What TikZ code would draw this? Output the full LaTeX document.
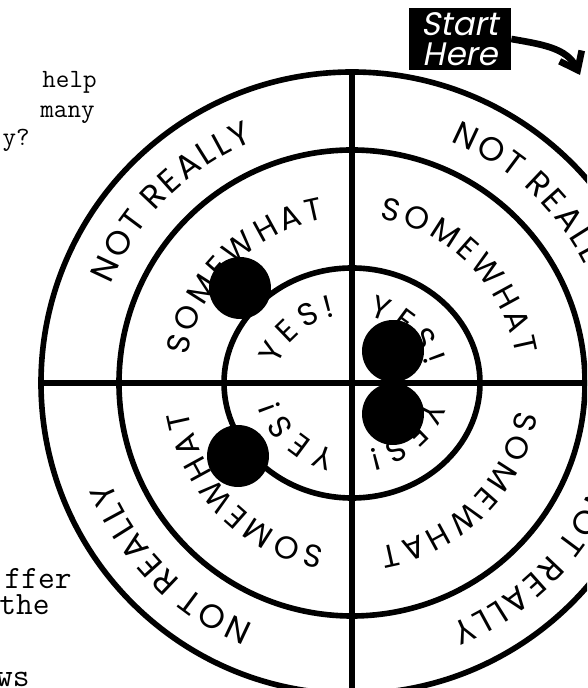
\documentclass[tikz,border=0pt]{standalone}
\usepackage{fontspec}
\newfontfamily\ringfont{Poppins}
\newfontfamily\tagfont[FakeSlant=0.2]{Poppins}
\newcommand\ringA{\ringfont\fontsize{19}{22}\selectfont}
\newcommand\ringB{\ringfont\fontsize{18}{21}\selectfont}
\newcommand\gapA{\kern1.6pt}
\newcommand\gapB{\kern2.2pt}
\newcommand\gapC{\kern3.2pt}
\usetikzlibrary{arrows.meta,decorations.text}
\tikzset{
  ringline/.style={line width=3.2pt},
  dot/.style={circle,fill=black,minimum size=1.24cm,inner sep=0pt},
  note/.style={font=\ttfamily\fontsize{15}{18}\selectfont,inner sep=0pt,anchor=base east},
  notebig/.style={note,font=\ttfamily\fontsize{18.5}{22}\selectfont},
  startbox/.style={fill=black,text=white,align=center,inner sep=0pt,
    minimum width=2.04cm,minimum height=1.24cm,
    font=\tagfont\fontsize{18.5}{17}\selectfont},
  onring/.style={decorate,decoration={text along path,text align=center,text={#1}}}
}

\begin{document}
\begin{tikzpicture}[x=0.02cm,y=0.02cm]
  \useasboundingbox (-352,-305) rectangle (235,383);
  \clip (-352,-305) rectangle (235,383);
  % rings and cross
  \draw[ringline] (0,0) circle (311);
  \draw[ringline] (0,0) circle (233);
  \draw[ringline] (0,0) ellipse [x radius=128,y radius=115];
  \draw[ringline] (-311,0) -- (311,0);
  \draw[ringline] (0,311) -- (0,-311);
  % labels, read clockwise in every quadrant
  \foreach \a in {45,135,225,315} {
    \path[onring={|\ringA|{N\gapA}{O\gapA}{T\gapA} {R\gapA}{E\gapA}{A\gapA}{L\gapA}{L\gapA}{Y}}]
      ({\a+45}:261) arc [start angle=\a+45,end angle=\a-45,radius=261];
    \path[onring={|\ringB|{S\gapB}{O\gapB}{M\gapB}{E\gapB}{W\gapB}{H\gapB}{A\gapB}{T}}]
      ({\a+45}:166) arc [start angle=\a+45,end angle=\a-45,radius=166];
    \path[onring={|\ringB|{Y\gapC}{E\gapC}{S\gapC}{!}}]
      ({\a+45}:76 and 68) arc [start angle=\a+45,end angle=\a-45,x radius=76,y radius=68];
  }
  % markers
  \node[dot] (b1) at (-112,95) {};
  \node[dot] (b2) at (41,32) {};
  \node[dot] (b3) at (41,-31) {};
  \node[dot] (b4) at (-114,-73) {};
  % start tag
  \node[startbox] (start) at (108,344) {Start\\Here};
  \coordinate (arrowtip) at (228,308);
  \draw[line width=3.8pt,-{Straight Barb[length=9pt,width=14pt]}]
    (start.east) to[out=-10,in=116] (arrowtip);
  % cut-off side text
  \node[note] (q1) at (-255,295) {help};
  \node[note] (q2) at (-257,265) {many};
  \node[note] (q3) at (-322,237) {y?};
  \node[notebig] (n1) at (-280,-205) {ffer};
  \node[notebig] (n2) at (-302,-231) {the};
  \node[notebig] (n3) at (-322,-303) {ws};
\end{tikzpicture}
\end{document}
